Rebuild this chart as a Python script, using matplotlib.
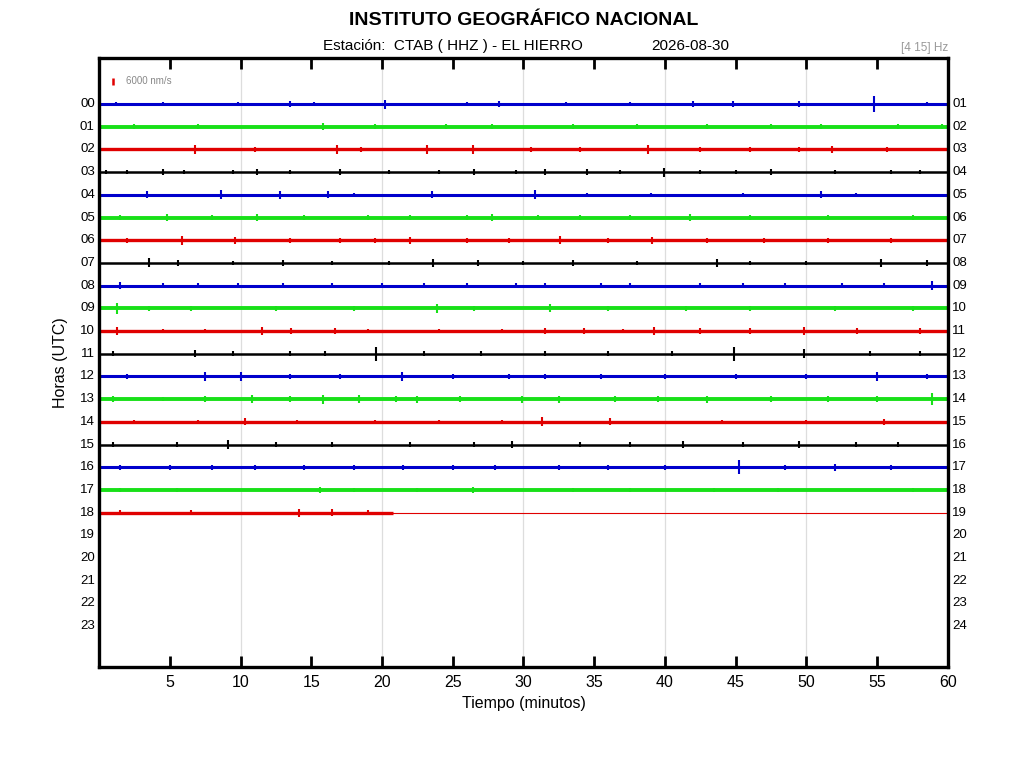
import matplotlib
matplotlib.use("Agg")
import matplotlib.pyplot as plt
import matplotlib.transforms as mtransforms

plt.rcParams["font.family"] = ["Liberation Sans", "DejaVu Sans"]

# --- data read from the helicorder ---
hours = list(range(24))
left_labels = [f"{h:02d}" for h in range(24)]
right_labels = [f"{h:02d}" for h in range(1, 25)]
trace_colors = ["#0000CC", "#18E018", "#E00000", "#000000"]
trace_widths = [2.2, 2.8, 2.4, 1.8]

# minutes recorded per hour (hour 18 stops at ~20.8, later hours empty)
trace_end = [60] * 18 + [20.8]
flat_tail = (20.8, 60)  # thin flat line after the last data in hour 18

# (minute, half-amplitude in rows) for the visible spikes on each trace
trace_spikes = [
    [(1.2, .1), (4.5, .1), (9.8, .1), (13.5, .12), (15.2, .1), (20.2, .2), (26.0, .1), (28.3, .12),
     (33.0, .1), (37.5, .1), (42.0, .15), (44.8, .12), (49.5, .12), (54.8, .35), (58.5, .1)],
    [(2.5, .1), (7.0, .12), (15.8, .15), (19.5, .1), (24.5, .1), (27.8, .1), (33.5, .1), (38.0, .12),
     (43.0, .1), (47.5, .1), (51.0, .12), (56.5, .1), (59.6, .12)],
    [(6.8, .18), (11.0, .1), (16.8, .2), (18.5, .12), (23.2, .18), (26.4, .2), (30.5, .12), (34.0, .12),
     (38.8, .18), (42.5, .1), (46.0, .1), (49.5, .12), (51.8, .15), (55.7, .12)],
    [(0.5, .1), (2.0, .1), (4.5, .12), (6.0, .1), (9.5, .1), (11.2, .12), (13.5, .1), (17.0, .12),
     (20.5, .1), (24.0, .1), (26.5, .12), (29.5, .1), (31.5, .12), (34.5, .12), (36.8, .1), (39.9, .2),
     (42.5, .1), (45.0, .1), (47.5, .12), (52.0, .1), (56.0, .1), (58.0, .1)],
    [(3.4, .15), (8.6, .2), (12.8, .18), (16.2, .15), (18.0, .1), (23.5, .15), (30.8, .2), (34.5, .1),
     (39.0, .1), (45.5, .1), (51.0, .15), (53.5, .1)],
    [(1.5, .1), (4.8, .15), (8.0, .1), (11.2, .15), (14.5, .12), (19.0, .1), (22.0, .12), (26.0, .12),
     (27.8, .15), (31.0, .12), (34.0, .1), (37.5, .12), (41.8, .15), (46.0, .1), (51.5, .12), (57.5, .12)],
    [(2.0, .1), (5.9, .2), (9.6, .15), (13.5, .1), (17.0, .1), (19.5, .1), (22.0, .15), (26.0, .12),
     (29.0, .1), (32.6, .18), (36.0, .12), (39.1, .15), (43.0, .1), (47.0, .12), (51.5, .12), (56.0, .1)],
    [(3.5, .2), (5.6, .15), (9.5, .1), (13.0, .12), (16.5, .1), (20.5, .1), (23.6, .18), (26.8, .15),
     (30.0, .1), (33.5, .12), (38.0, .1), (43.7, .18), (46.0, .1), (50.0, .1), (55.3, .18), (58.5, .12)],
    [(1.5, .15), (4.5, .12), (7.0, .1), (9.8, .12), (13.0, .12), (16.5, .1), (20.0, .12), (23.0, .12),
     (26.0, .1), (29.5, .1), (31.5, .12), (35.5, .12), (37.5, .1), (42.5, .12), (45.5, .1), (48.5, .12),
     (52.5, .1), (55.5, .1), (58.9, .2)],
    [(1.3, .25), (3.5, .1), (6.5, .12), (12.5, .1), (18.0, .1), (23.9, .2), (26.5, .1), (31.9, .18),
     (36.0, .1), (41.5, .1), (46.0, .1), (52.0, .1), (57.5, .1)],
    [(1.3, .18), (4.5, .1), (7.5, .1), (11.5, .18), (13.6, .15), (16.7, .15), (19.0, .1), (24.0, .1),
     (28.5, .1), (31.5, .12), (34.3, .15), (37.0, .1), (39.2, .18), (42.5, .12), (46.0, .12), (49.8, .18),
     (53.6, .15), (58.0, .12)],
    [(1.0, .1), (6.8, .15), (9.5, .1), (13.5, .1), (16.0, .1), (19.6, .3), (23.0, .1), (27.0, .1),
     (31.5, .1), (36.0, .1), (40.5, .1), (44.9, .3), (49.8, .2), (54.5, .1), (58.0, .1)],
    [(2.0, .1), (7.5, .2), (10.0, .18), (13.5, .1), (17.0, .1), (21.4, .18), (25.0, .1), (29.0, .1),
     (31.5, .1), (35.5, .12), (40.0, .1), (45.0, .12), (50.0, .12), (55.0, .2), (58.5, .12)],
    [(1.0, .12), (4.5, .1), (7.5, .12), (10.8, .18), (13.5, .12), (15.8, .2), (18.4, .18), (21.0, .12),
     (22.5, .15), (25.5, .12), (29.9, .15), (32.5, .15), (36.5, .12), (39.5, .12), (43.0, .15), (47.5, .12),
     (51.5, .12), (55.0, .12), (58.9, .25)],
    [(2.5, .1), (7.0, .1), (10.3, .15), (14.0, .1), (19.5, .1), (24.0, .1), (28.5, .1), (31.3, .2),
     (36.1, .15), (44.0, .1), (50.0, .1), (55.5, .12)],
    [(1.0, .12), (5.5, .1), (9.1, .2), (12.5, .1), (16.5, .1), (22.0, .12), (26.5, .1), (29.2, .15),
     (34.0, .1), (37.5, .12), (41.3, .15), (45.5, .1), (49.5, .15), (53.5, .12), (56.5, .12)],
    [(1.5, .1), (5.0, .12), (8.0, .12), (11.0, .1), (14.5, .12), (18.0, .1), (21.5, .12), (25.0, .1),
     (28.0, .12), (32.5, .1), (36.0, .12), (40.0, .1), (45.2, .3), (48.5, .12), (52.0, .15), (56.0, .12)],
    [(1.5, .1), (5.5, .1), (15.6, .15), (18.0, .1), (22.5, .1), (26.4, .15), (33.5, .1), (37.5, .1),
     (43.5, .1), (48.0, .1), (57.5, .1)],
    [(1.5, .1), (6.5, .1), (14.1, .18), (16.5, .15), (19.0, .1)],
]

x_ticks = [5, 10, 15, 20, 25, 30, 35, 40, 45, 50, 55, 60]
grid_minutes = [10, 20, 30, 40, 50]

fig = plt.figure(figsize=(10.24, 7.68), dpi=100)
ax = fig.add_axes([0.0967, 0.1315, 0.829, 0.793])

for g in grid_minutes:
    ax.axvline(g, color="#dddddd", lw=0.9, zorder=0)

for i, spikes in enumerate(trace_spikes):
    c = trace_colors[i % 4]
    lw = trace_widths[i % 4]
    ax.plot([0, trace_end[i]], [i, i], color=c, lw=lw, solid_capstyle="butt", zorder=2)
    xs = [s[0] for s in spikes]
    amps = [s[1] for s in spikes]
    ax.vlines(xs, [i - a for a in amps], [i + a for a in amps], color=c, lw=1.5, zorder=3)

# hour 18 continues as a thin flat line
ax.plot(flat_tail, [18, 18], color=trace_colors[18 % 4], lw=0.8, zorder=2)

# scale bar
ax.vlines([1.0], [-1.17], [-0.83], color="#E00000", lw=1.8)
ax.text(1.9, -1.0, "6000 nm/s", color="#888888", fontsize=7, va="center", ha="left")

ax.set_xlim(0, 60)
ax.set_ylim(24.8, -2.03)
ax.set_xticks(x_ticks)
ax.set_xticklabels([str(t) for t in x_ticks], fontsize=11.5)
ax.set_yticks([])
ax.tick_params(axis="x", direction="in", length=8, width=2, top=True, pad=6)
for sp in ax.spines.values():
    sp.set_linewidth(2.4)

trans_l = mtransforms.blended_transform_factory(ax.transAxes, ax.transData)
for h in hours:
    ax.text(-0.005, h, left_labels[h], transform=trans_l, ha="right", va="center", fontsize=9.5)
    ax.text(1.005, h, right_labels[h], transform=trans_l, ha="left", va="center", fontsize=9.5)

ax.set_xlabel("Tiempo (minutos)", fontsize=11.5, labelpad=4)
ax.set_ylabel("Horas (UTC)", fontsize=11.5, labelpad=22)

fig.text(0.5115, 0.973, "INSTITUTO GEOGRÁFICO NACIONAL", ha="center", va="center",
         fontsize=14, fontweight="bold")
fig.text(0.4425, 0.940, "Estación:  CTAB ( HHZ ) - EL HIERRO", ha="center", va="center", fontsize=11)
fig.text(0.674, 0.940, "2026-08-30", ha="center", va="center", fontsize=11)
fig.text(0.926, 0.937, "[4 15] Hz", ha="right", va="center", fontsize=8.5, color="#999999")

fig.savefig("out.png", dpi=100)
